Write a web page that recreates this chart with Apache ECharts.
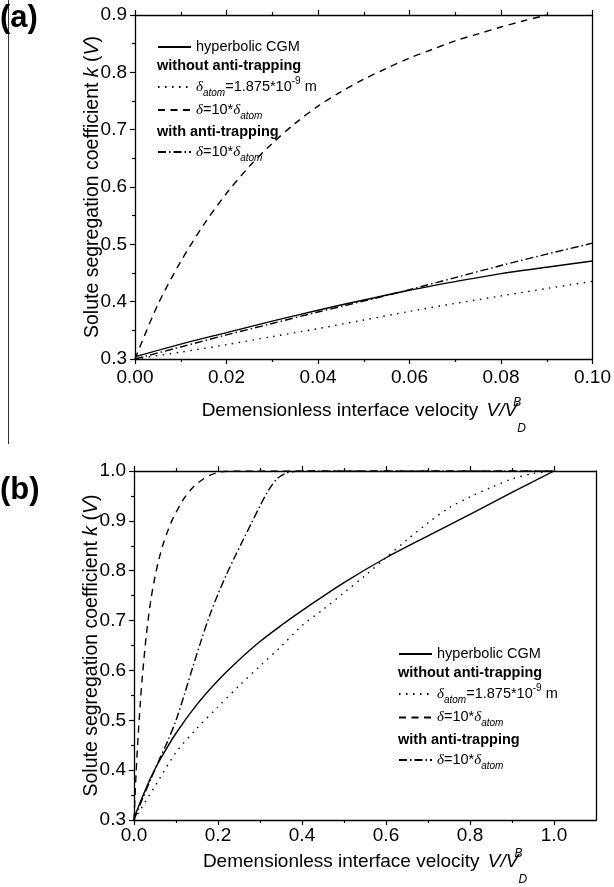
<!DOCTYPE html>
<html>
<head>
<meta charset="utf-8" />
<script src="https://cdn.jsdelivr.net/npm/echarts@6/dist/echarts.min.js"></script>
<style>
    html, body, #main { margin: 0; padding: 0; width: 614px; height: 887px; background: #fff; }
</style>
</head>
<body>
<div id="main"></div>
<script>
// ---- panel (a): 0 <= V/V_D^B <= 0.1 ----
var aX = [0, 0.01, 0.02, 0.03, 0.04, 0.05, 0.06, 0.07, 0.08, 0.09, 0.1];
var aHyperbolic = [0.304, 0.326, 0.346, 0.366, 0.385, 0.403, 0.420, 0.435, 0.449, 0.460, 0.471];
var aAtom = [0.300, 0.312, 0.325, 0.339, 0.353, 0.368, 0.383, 0.397, 0.410, 0.423, 0.4355];
var aAnti = [0.300, 0.321, 0.342, 0.362, 0.382, 0.401, 0.421, 0.442, 0.463, 0.483, 0.502];
var aTenX = [0, 0.005, 0.01, 0.015, 0.02, 0.025, 0.03, 0.035, 0.04, 0.045, 0.05,
             0.055, 0.06, 0.065, 0.07, 0.075, 0.08, 0.085, 0.09];
var aTenAtom = [0.300, 0.395, 0.470, 0.534, 0.589, 0.636, 0.676, 0.711, 0.741, 0.766, 0.788,
                0.807, 0.825, 0.840, 0.855, 0.867, 0.879, 0.890, 0.900];

// ---- panel (b): 0 <= V/V_D^B <= 1 ----
var bHypX = [0, 0.02, 0.04, 0.06, 0.1, 0.15, 0.2, 0.25, 0.3, 0.35, 0.4, 0.5, 0.6, 0.7, 0.8, 0.9, 1.0];
var bHyperbolic = [0.304, 0.346, 0.385, 0.418, 0.474, 0.532, 0.580, 0.621, 0.658, 0.690, 0.720,
                   0.776, 0.826, 0.870, 0.913, 0.957, 1.0];
var bAtomX = [0, 0.05, 0.1, 0.15, 0.2, 0.25, 0.3, 0.35, 0.4, 0.45, 0.5, 0.55, 0.6, 0.65,
              0.7, 0.75, 0.8, 0.85, 0.9, 0.95, 1.0];
var bAtom = [0.300, 0.368, 0.4355, 0.484, 0.527, 0.569, 0.609, 0.648, 0.690, 0.722, 0.756, 0.790,
             0.826, 0.862, 0.896, 0.926, 0.948, 0.967, 0.984, 0.995, 1.0];
var bTenX = [0, 0.005, 0.01, 0.015, 0.02, 0.03, 0.04, 0.05, 0.06, 0.07, 0.08, 0.09, 0.1,
             0.12, 0.14, 0.16, 0.18, 0.2, 0.22, 0.25, 0.5, 1.0];
var bTenAtom = [0.300, 0.395, 0.470, 0.534, 0.589, 0.676, 0.741, 0.788, 0.825, 0.855, 0.879, 0.900,
                0.917, 0.946, 0.967, 0.981, 0.991, 0.997, 0.9995, 1.0, 1.0, 1.0];
var bAntiX = [0, 0.02, 0.04, 0.06, 0.08, 0.1, 0.12, 0.14, 0.16, 0.18, 0.2, 0.22, 0.24, 0.26,
              0.28, 0.3, 0.32, 0.34, 0.36, 0.38, 0.4, 0.7, 1.0];
var bAnti = [0.300, 0.342, 0.382, 0.421, 0.458, 0.500, 0.552, 0.607, 0.660, 0.710, 0.753, 0.792,
             0.828, 0.862, 0.896, 0.930, 0.961, 0.984, 0.995, 0.999, 1.0, 1.0, 1.0];

// tick values
var aXTicks = [0, 0.02, 0.04, 0.06, 0.08, 0.1];
var bXTicks = [0, 0.2, 0.4, 0.6, 0.8, 1.0];

var NAME_CGM = 'hyperbolic CGM';
var NAME_ATOM = 'delta_atom';
var NAME_TEN = 'delta_10';
var NAME_ANTI = 'delta_10_anti';

var FONT = 'Liberation Sans, Arial, sans-serif';
var INK = '#000';

function pairs(xs, ys) {
    return xs.map(function (x, i) { return [x, ys[i]]; });
}

var dashes = {};
dashes[NAME_CGM] = 'solid';
dashes[NAME_ATOM] = [1.5, 5.5];
dashes[NAME_TEN] = [7, 5.5];
dashes[NAME_ANTI] = [8, 3, 1.5, 3];

function line(name, data, gridIdx) {
    return {
        type: 'line',
        name: name,
        xAxisIndex: gridIdx * 2,
        yAxisIndex: gridIdx * 2,
        data: data,
        showSymbol: false,
        symbol: 'none',
        smooth: 0.3,
        lineStyle: { color: INK, width: 1.4, type: dashes[name] },
        itemStyle: { color: INK },
        z: 3
    };
}

var axisLine = { onZero: false, lineStyle: { color: INK, width: 1.3 } };
var tickStyle = { color: INK, width: 1.2 };

function xAxes(gridIdx, max, ticks, digits, labelMargin, nameGap) {
    var common = {
        type: 'value', gridIndex: gridIdx, min: 0, max: max,
        interval: ticks[1] - ticks[0],
        axisLine: axisLine,
        axisTick: { show: true, inside: false, length: 5, customValues: ticks, lineStyle: tickStyle },
        minorTick: { show: true, splitNumber: 2, length: 3, lineStyle: tickStyle },
        splitLine: { show: false }
    };
    var bottom = Object.assign({}, common, {
        position: 'bottom',
        axisLabel: { customValues: ticks, margin: labelMargin, fontSize: 19, color: INK, fontFamily: FONT,
                     formatter: function (v) { return v.toFixed(digits); } },
        name: 'Demensionless interface velocity {i|V/V}{sup|B}{sub|D}',
        nameLocation: 'middle',
        nameGap: nameGap,
        nameMoveOverlap: false,
        nameTextStyle: {
            fontSize: 19, color: INK, fontFamily: FONT, lineHeight: 48,
            rich: {
                i: { fontSize: 19, fontStyle: 'italic', fontFamily: FONT, padding: [0, 0, 0, 3] },
                sup: { fontSize: 12, fontStyle: 'italic', fontFamily: FONT, verticalAlign: 'top',
                       width: 0, padding: [10, 0, 0, 0] },
                sub: { fontSize: 12, fontStyle: 'italic', fontFamily: FONT, verticalAlign: 'bottom' }
            }
        }
    });
    var top = Object.assign({}, common, { position: 'top', axisLabel: { show: false } });
    return [bottom, top];
}

function yAxes(gridIdx, max) {
    var left = {
        type: 'value', gridIndex: gridIdx, min: 0.3, max: max, interval: 0.1,
        position: 'left',
        axisLine: axisLine,
        axisTick: { show: true, inside: false, length: 5, lineStyle: tickStyle },
        minorTick: { show: true, splitNumber: 2, length: 3, lineStyle: tickStyle },
        splitLine: { show: false },
        axisLabel: { margin: 8, fontSize: 19, color: INK, fontFamily: FONT,
                     formatter: function (v) { return v.toFixed(1); } },
        name: 'Solute segregation coefficient {i|k} ({i|V})',
        nameLocation: 'middle',
        nameGap: 31,
        nameMoveOverlap: false,
        nameTextStyle: {
            fontSize: 19.5, color: INK, fontFamily: FONT, lineHeight: 22,
            rich: { i: { fontSize: 19.5, fontStyle: 'italic', fontFamily: FONT, lineHeight: 22 } }
        }
    };
    var right = {
        type: 'value', gridIndex: gridIdx, min: 0.3, max: max, position: 'right',
        axisLine: axisLine, axisTick: { show: false }, axisLabel: { show: false },
        splitLine: { show: false }
    };
    return [left, right];
}

var legendRich = {
    d: { fontSize: 15, fontStyle: 'italic', fontFamily: 'Liberation Serif, serif', color: INK },
    sub: { fontSize: 10, fontStyle: 'italic', fontFamily: FONT, verticalAlign: 'bottom', color: INK },
    sup: { fontSize: 10, fontFamily: FONT, verticalAlign: 'top', color: INK }
};

function legendText(name) {
    if (name === NAME_CGM) return 'hyperbolic CGM';
    if (name === NAME_ATOM) return '{d|δ}{sub|atom}=1.875*10{sup|-9} m';
    return '{d|δ}=10*{d|δ}{sub|atom}';
}

function legend(names, left, top, gap) {
    return {
        data: names, left: left, top: top, orient: 'vertical', padding: 0,
        itemWidth: 33, itemHeight: 10, itemGap: gap, selectedMode: false,
        itemStyle: { opacity: 0 },
        formatter: legendText,
        textStyle: { fontSize: 14.5, color: INK, fontFamily: FONT, lineHeight: 22, rich: legendRich }
    };
}

function header(text, x, y) {
    return { type: 'text', x: x, y: y, style: { text: text, fontSize: 14.5, fontWeight: 'bold',
             fontFamily: FONT, fill: INK, verticalAlign: 'middle' } };
}

var chart = echarts.init(document.getElementById('main'));

chart.setOption({
    animation: false,
    backgroundColor: '#fff',
    grid: [
        { left: 135, top: 15, width: 462, height: 344 },
        { left: 134, top: 471, width: 462, height: 350 }
    ],
    xAxis: xAxes(0, 0.1, aXTicks, 2, 9, 28).concat(xAxes(1, 1.1, bXTicks, 1, 6, 18)),
    yAxis: yAxes(0, 0.9).concat(yAxes(1, 1.0)),
    legend: [
        legend([NAME_CGM], 157, 36, 1),
        legend([NAME_ATOM, NAME_TEN], 157, 76, 1),
        legend([NAME_ANTI], 157, 141, 1),
        legend([NAME_CGM], 398, 643, 1),
        legend([NAME_ATOM, NAME_TEN], 398, 683, 1.4),
        legend([NAME_ANTI], 398, 749, 1)
    ],
    graphic: [
        { type: 'line', shape: { x1: 8.5, y1: 0, x2: 8.5, y2: 444 },
          style: { stroke: '#333', lineWidth: 1 } },
        { type: 'text', x: 0, y: 18, style: { text: '(a)', fontSize: 31, fontWeight: 'bold',
          fontFamily: FONT, fill: INK, verticalAlign: 'middle' } },
        { type: 'text', x: 0, y: 490, style: { text: '(b)', fontSize: 31, fontWeight: 'bold',
          fontFamily: FONT, fill: INK, verticalAlign: 'middle' } },
        header('without anti-trapping', 157, 66),
        header('with anti-trapping', 157, 132),
        header('without anti-trapping', 398, 673),
        header('with anti-trapping', 398, 740)
    ],
    series: [
        line(NAME_CGM, pairs(aX, aHyperbolic), 0),
        line(NAME_ATOM, pairs(aX, aAtom), 0),
        line(NAME_TEN, pairs(aTenX, aTenAtom), 0),
        line(NAME_ANTI, pairs(aX, aAnti), 0),
        line(NAME_CGM, pairs(bHypX, bHyperbolic), 1),
        line(NAME_ATOM, pairs(bAtomX, bAtom), 1),
        line(NAME_TEN, pairs(bTenX, bTenAtom), 1),
        line(NAME_ANTI, pairs(bAntiX, bAnti), 1)
    ]
});
</script>
</body>
</html>
